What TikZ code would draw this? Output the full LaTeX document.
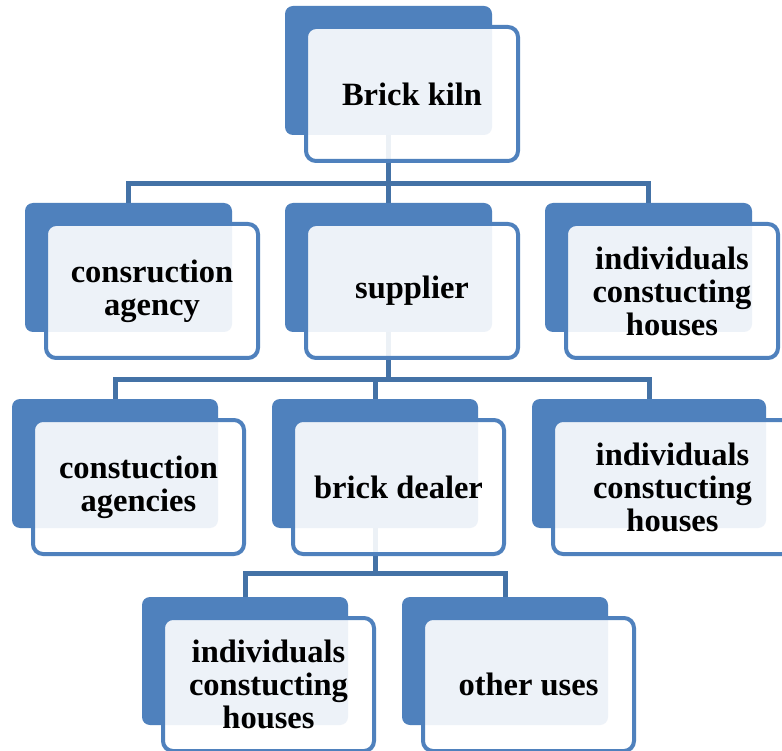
\documentclass[tikz,border=0pt]{standalone}
\usepackage{fontspec}
\setmainfont{Liberation Serif}
\pgfdeclarelayer{bg}
\pgfsetlayers{bg,main}
\definecolor{accent}{RGB}{79,129,189}
\definecolor{connc}{RGB}{68,114,166}
\tikzset{
 backbox/.style={rectangle, rounded corners=8pt, fill=accent, inner sep=0pt},
 frontbox/.style={rectangle, rounded corners=10pt, draw=accent, line width=4pt, fill=white, fill opacity=0.9, text opacity=1, draw opacity=1, inner sep=0pt, align=center, font=\bfseries\fontsize{32.5}{33}\selectfont},
 conn/.style={draw=connc, line width=5pt},
}
\newcommand\orgbox[6]{%
 \node[backbox, minimum width={#4-#2}, minimum height={#5-#3}] (#1B) at ({(#2+#4)/2},{(#3+#5)/2}) {};
 \node[frontbox, minimum width={#4-#2+5}, minimum height={#5-#3+5}] (#1) at ({(#2+#4)/2+23.5},{(#3+#5)/2+23.5}) {#6};
}
\begin{document}
\begin{tikzpicture}[x=1pt,y=-1pt]
\useasboundingbox (0,0) rectangle (782,751);
\orgbox{kiln}{285}{6}{492}{135}{Brick kiln}
\orgbox{agency}{25}{203}{232}{332}{consruction\\agency}
\orgbox{supplier}{285}{203}{492}{332}{supplier}
\orgbox{indiva}{545}{203}{752}{332}{individuals\\constucting\\houses}
\orgbox{agencies}{12}{399}{218}{528}{constuction\\agencies}
\orgbox{dealer}{272}{399}{478}{528}{brick dealer}
\orgbox{indivb}{532}{399}{766}{528}{individuals\\constucting\\houses}
\orgbox{indivc}{142}{597}{348}{725}{individuals\\constucting\\houses}
\orgbox{other}{402}{597}{608}{725}{other uses}
\begin{pgfonlayer}{bg}
\fill[white] (0,0) rectangle (782,751);
\coordinate (bus1) at (0,184);
\coordinate (bus2) at (0,379);
\coordinate (bus3) at (0,573);
\draw[conn] (kilnB.south) -- (kilnB.south |- bus1);
\draw[conn] (agencyB.north) -- (agencyB.north |- bus1) -- (indivaB.north |- bus1) -- (indivaB.north);
\draw[conn] (supplierB.north) -- (supplierB.north |- bus1);
\draw[conn] (supplierB.south) -- (supplierB.south |- bus2);
\draw[conn] (agenciesB.north) -- (agenciesB.north |- bus2) -- (indivbB.north |- bus2) -- (indivbB.north);
\draw[conn] (dealerB.north) -- (dealerB.north |- bus2);
\draw[conn] (dealerB.south) -- (dealerB.south |- bus3);
\draw[conn] (indivcB.north) -- (indivcB.north |- bus3) -- (otherB.north |- bus3) -- (otherB.north);
\end{pgfonlayer}
\end{tikzpicture}
\end{document}
